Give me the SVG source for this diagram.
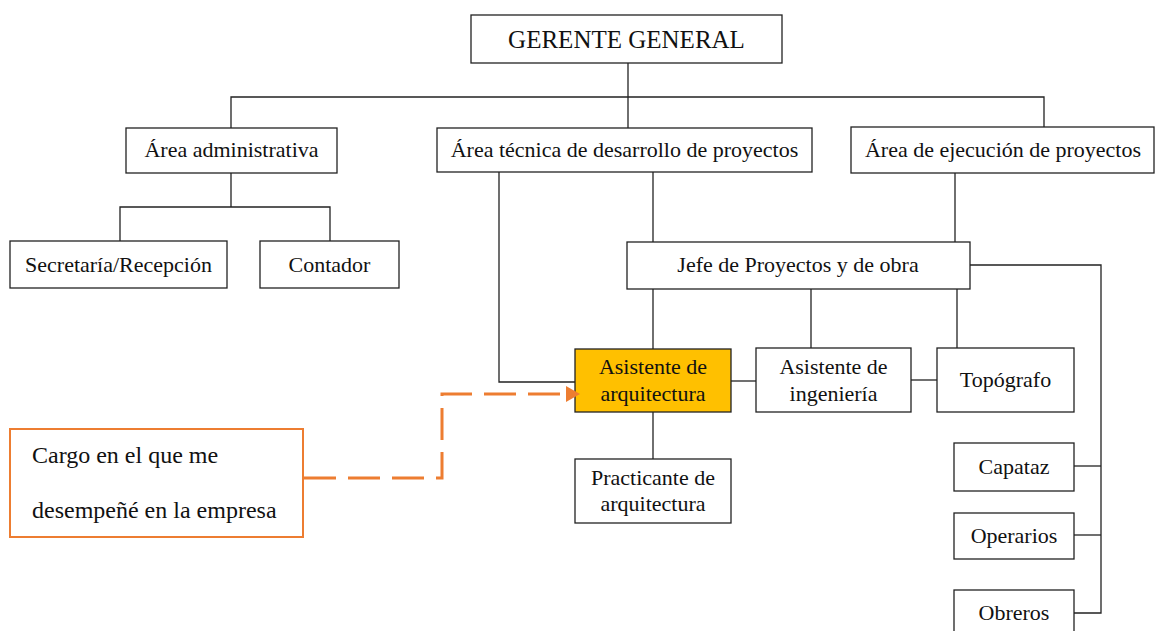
<svg xmlns="http://www.w3.org/2000/svg" width="1155" height="631" viewBox="0 0 1155 631">
<defs>
<style>
.box{fill:#fff;stroke:#222;stroke-width:1.3}
.hl{fill:#FFC000;stroke:#222;stroke-width:1.3}
.t{font-family:"Liberation Serif","Times New Roman",serif;font-size:22px;fill:#111;text-anchor:middle}
.c{fill:none;stroke:#222;stroke-width:1.3}
.note{fill:#fff;stroke:#ED7D31;stroke-width:2}
.nt{font-family:"Liberation Serif","Times New Roman",serif;font-size:24px;fill:#111}
.dash{fill:none;stroke:#ED7D31;stroke-width:3;stroke-dasharray:32 12}
</style>
<marker id="arr" viewBox="0 0 14 16" refX="0" refY="8" markerWidth="14" markerHeight="16" markerUnits="userSpaceOnUse" orient="auto">
<path d="M0,0 L14,8 L0,16 Z" fill="#ED7D31"/>
</marker>
</defs>
<g id="gerente"><rect class="box" x="471" y="15" width="311" height="48"/><text class="t" x="626.5" y="48" style="font-size:25px">GERENTE GENERAL</text></g>
<g id="area-admin"><rect class="box" x="126" y="128" width="211" height="45"/><text class="t" x="231.5" y="157">Área administrativa</text></g>
<g id="area-tecnica"><rect class="box" x="437" y="128" width="375" height="44"/><text class="t" x="624.5" y="157">Área técnica de desarrollo de proyectos</text></g>
<g id="area-ejecucion"><rect class="box" x="851" y="127" width="303" height="46"/><text class="t" x="1003" y="157">Área de ejecución de proyectos</text></g>
<g id="secretaria"><rect class="box" x="10" y="241" width="217" height="47"/><text class="t" x="118.5" y="272">Secretaría/Recepción</text></g>
<g id="contador"><rect class="box" x="260" y="241" width="139" height="47"/><text class="t" x="329.5" y="272">Contador</text></g>
<g id="jefe"><rect class="box" x="627" y="242" width="343" height="47"/><text class="t" x="798" y="272">Jefe de Proyectos y de obra</text></g>
<g id="asist-arq"><rect class="hl" x="575" y="349" width="156" height="63"/><text class="t" x="653" y="374">Asistente de</text><text class="t" x="653" y="401">arquitectura</text></g>
<g id="asist-ing"><rect class="box" x="756" y="348" width="155" height="64"/><text class="t" x="833.5" y="374">Asistente de</text><text class="t" x="833.5" y="401">ingeniería</text></g>
<g id="topografo"><rect class="box" x="937" y="348" width="137" height="64"/><text class="t" x="1005.5" y="387">Topógrafo</text></g>
<g id="practicante"><rect class="box" x="575" y="459" width="156" height="64"/><text class="t" x="653" y="485">Practicante de</text><text class="t" x="653" y="511">arquitectura</text></g>
<g id="capataz"><rect class="box" x="954" y="443" width="120" height="48"/><text class="t" x="1014" y="474">Capataz</text></g>
<g id="operarios"><rect class="box" x="954" y="513" width="120" height="46"/><text class="t" x="1014" y="543">Operarios</text></g>
<g id="obreros"><rect class="box" x="954" y="590" width="120" height="50"/><text class="t" x="1014" y="620">Obreros</text></g>
<g id="nota"><rect class="note" x="10" y="429" width="293" height="108"/><text class="nt" x="32" y="463">Cargo en el que me</text><text class="nt" x="32" y="518">desempeñé en la empresa</text></g>
<g id="connectors">
<path class="c" d="M628,63 V128"/>
<path class="c" d="M231,128 V97 H1044 V127"/>
<path class="c" d="M231,173 V207 M120,241 V207 H330 V241"/>
<path class="c" d="M499,172 V382 H575"/>
<path class="c" d="M653,172 V242"/>
<path class="c" d="M955,173 V242"/>
<path class="c" d="M653,289 V349"/>
<path class="c" d="M811,289 V348"/>
<path class="c" d="M957,289 V348"/>
<path class="c" d="M731,381 H756"/>
<path class="c" d="M911,380 H937"/>
<path class="c" d="M653,412 V459"/>
<path class="c" d="M970,265 H1101 V613 H1074"/>
<path class="c" d="M1074,466 H1101"/>
<path class="c" d="M1074,535 H1101"/>
<path class="dash" d="M304,478 H442 V394 H566" marker-end="url(#arr)"/>
</g>
</svg>
